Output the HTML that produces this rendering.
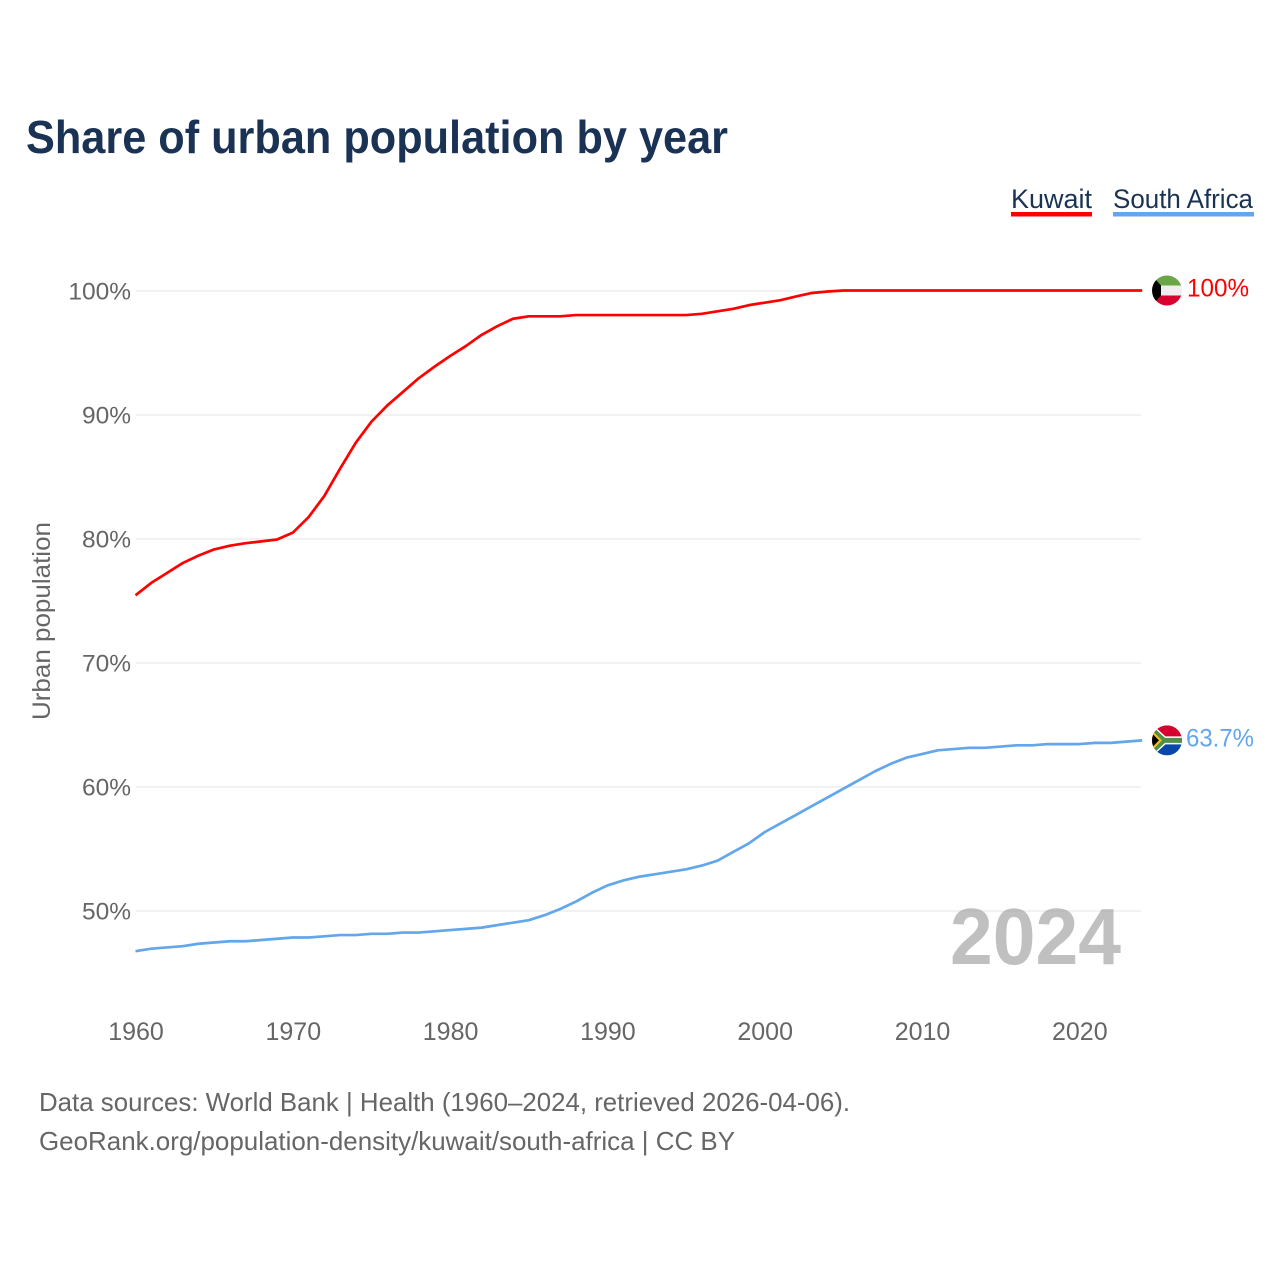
<!DOCTYPE html>
<html lang="en">
<head>
<meta charset="utf-8">
<title>Share of urban population by year</title>
<style>
html,body{margin:0;padding:0;background:#fff;}
svg{display:block;font-family:"Liberation Sans",sans-serif;}
</style>
</head>
<body>
<svg id="chart" xmlns="http://www.w3.org/2000/svg" width="1280" height="1280" viewBox="0 0 1280 1280">
  <rect width="1280" height="1280" fill="#fff"/>
  <text x="26" y="153" font-size="46" font-weight="700" fill="#1a3354" textLength="702" lengthAdjust="spacingAndGlyphs">Share of urban population by year</text>
  <g>
    <text x="1011" y="208" font-size="27" fill="#1a3354" textLength="81" lengthAdjust="spacingAndGlyphs">Kuwait</text>
    <rect x="1011" y="212" width="81" height="4.5" fill="#ff0000"/>
  </g>
  <g>
    <text x="1113" y="208" font-size="27" fill="#1a3354" textLength="140" lengthAdjust="spacingAndGlyphs">South Africa</text>
    <rect x="1113" y="212" width="141" height="4.5" fill="#62a6ec"/>
  </g>
  <g id="grid"></g>
  <g id="yticks"></g>
  <g id="xticks"></g>
  <text transform="translate(50,621) rotate(-90)" text-anchor="middle" font-size="25" fill="#666" textLength="198" lengthAdjust="spacingAndGlyphs">Urban population</text>
  <text x="950" y="964" font-size="80" font-weight="700" fill="#a8a8a8" fill-opacity="0.72" textLength="171" lengthAdjust="spacingAndGlyphs">2024</text>
  <g id="series"></g>
  <defs>
    <clipPath id="clip-kw"><circle cx="0" cy="0" r="15"/></clipPath>
    <clipPath id="clip-za"><circle cx="0" cy="0" r="15"/></clipPath>
  </defs>
  <g id="flag-kw">
    <g clip-path="url(#clip-kw)">
      <rect x="-15" y="-15" width="30" height="10" fill="#6aa547"/>
      <rect x="-15" y="-5" width="30" height="10" fill="#eeeeee"/>
      <rect x="-15" y="5" width="30" height="10" fill="#d8002f"/>
      <polygon points="-15,-15 -6,-5 -6,5 -15,15" fill="#000"/>
    </g>
  </g>
  <g id="flag-za">
    <g clip-path="url(#clip-za)">
      <rect x="-15" y="-15" width="30" height="15" fill="#d8002f"/>
      <rect x="-15" y="0" width="30" height="15" fill="#0a47a8"/>
      <path d="M-15,-15 L-2,-3 L15,-3 M-15,15 L-2,3 L15,3" fill="none" stroke="#fff" stroke-width="2"/>
      <path d="M-17,-13 L-3,0 L-17,13 M-3,0 L15,0" fill="none" stroke="#4f8f47" stroke-width="5"/>
      <polygon points="-15,-10 -5,0 -15,10" fill="#f5bf1e"/>
      <polygon points="-15,-7 -8,0 -15,7" fill="#000"/>
    </g>
  </g>
  <text id="label-kw" x="1187" font-size="25" fill="#ff0000" textLength="62" lengthAdjust="spacingAndGlyphs"></text>
  <text id="label-za" x="1186" font-size="25" fill="#62a6ec" textLength="68" lengthAdjust="spacingAndGlyphs"></text>
  <text x="39" y="1111" font-size="26" fill="#666" textLength="811" lengthAdjust="spacingAndGlyphs">Data sources: World Bank | Health (1960–2024, retrieved 2026-04-06).</text>
  <text x="39" y="1150" font-size="26" fill="#666" textLength="696" lengthAdjust="spacingAndGlyphs">GeoRank.org/population-density/kuwait/south-africa | CC BY</text>
</svg>
<script>
const startYear = 1960;
const xTickYears = [1960, 1970, 1980, 1990, 2000, 2010, 2020];
const yTickValues = [50, 60, 70, 80, 90, 100];
const kuwaitValues = [75.42,76.42,77.22,78.02,78.62,79.12,79.42,79.62,79.77,79.92,80.47,81.72,83.42,85.62,87.72,89.42,90.72,91.82,92.92,93.85,94.72,95.52,96.42,97.12,97.72,97.92,97.92,97.92,98.02,98.02,98.02,98.02,98.02,98.02,98.02,98.02,98.12,98.32,98.52,98.82,99.02,99.22,99.52,99.8,99.92,100,100,100,100,100,100,100,100,100,100,100,100,100,100,100,100,100,100,100,100];
const southAfricaValues = [46.72,46.92,47.02,47.12,47.32,47.42,47.52,47.52,47.62,47.72,47.82,47.82,47.92,48.02,48.02,48.12,48.12,48.22,48.22,48.32,48.42,48.52,48.62,48.82,49.02,49.22,49.62,50.12,50.72,51.42,52.02,52.42,52.72,52.92,53.12,53.32,53.62,54.02,54.72,55.42,56.32,57.02,57.72,58.42,59.12,59.82,60.52,61.22,61.82,62.32,62.62,62.92,63.02,63.12,63.12,63.22,63.32,63.32,63.42,63.42,63.42,63.52,63.52,63.62,63.72];
const kuwaitEndLabel = "100%";
const southAfricaEndLabel = "63.7%";

const NS = "http://www.w3.org/2000/svg";
const xScale = year => 135.5 + (year - 1960) * 15.73;
const yScale = value => 290.5 + (100 - value) * 12.4;
const gridRight = 1141;
const flagX = 1167;

function make(tag, attrs, parent, text) {
  const el = document.createElementNS(NS, tag);
  for (const k in attrs) el.setAttribute(k, attrs[k]);
  if (text !== undefined) el.textContent = text;
  parent.appendChild(el);
  return el;
}

const grid = document.getElementById("grid");
const yticks = document.getElementById("yticks");
const xticks = document.getElementById("xticks");
const seriesGroup = document.getElementById("series");

yTickValues.forEach(v => {
  const gy = yScale(v) + 0.5;
  const line = make("line", {x1: 136, x2: gridRight, y1: gy, y2: gy, stroke: "#e9e9e9", "stroke-width": 1.3}, grid);
  
  
  const label = make("text", {x: 131, y: gy + 8.3, "text-anchor": "end", "font-size": 24.5, fill: "#666"}, yticks, v + "%");
  
  
});

xTickYears.forEach(y => {
  const label = make("text", {x: xScale(y) + 0.5, y: 1040, "text-anchor": "middle", "font-size": 25, fill: "#666"}, xticks, String(y));
  
  
});

function linePath(values) {
  return values.map((v, i) => (i ? "L" : "M") + xScale(startYear + i).toFixed(2) + "," + yScale(v).toFixed(2)).join(" ");
}

const kuwaitLine = make("path", {d: linePath(kuwaitValues), fill: "none", stroke: "#ff0000", "stroke-width": 2.7, "stroke-linejoin": "round"}, seriesGroup);



const southAfricaLine = make("path", {d: linePath(southAfricaValues), fill: "none", stroke: "#62a6ec", "stroke-width": 2.7, "stroke-linejoin": "round"}, seriesGroup);



const kwY = yScale(kuwaitValues[kuwaitValues.length - 1]);
const zaY = yScale(southAfricaValues[southAfricaValues.length - 1]);
document.getElementById("flag-kw").setAttribute("transform", "translate(" + flagX + "," + kwY + ")");
document.getElementById("flag-za").setAttribute("transform", "translate(" + flagX + "," + zaY + ")");
const labelKw = document.getElementById("label-kw");
labelKw.setAttribute("y", kwY + 6);
labelKw.textContent = kuwaitEndLabel;
const labelZa = document.getElementById("label-za");
labelZa.setAttribute("y", zaY + 6);
labelZa.textContent = southAfricaEndLabel;
</script>
</body>
</html>
